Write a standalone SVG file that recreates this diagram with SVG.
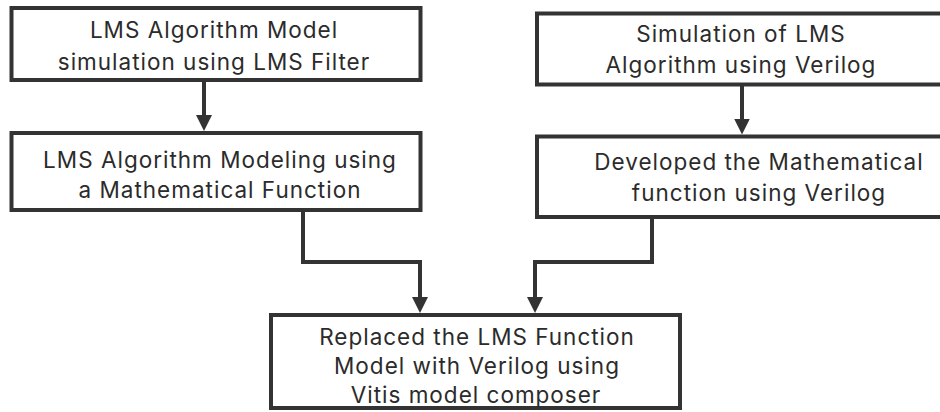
<svg xmlns="http://www.w3.org/2000/svg" width="940" height="412" viewBox="0 0 940 412">
  <defs>
    <style>
      .box { fill: #ffffff; stroke: #333333; stroke-width: 4; }
      .lbl { font-family: Inter, "Open Sans", "Liberation Sans", sans-serif; font-size: 22.5px; letter-spacing: 1px; fill: #2b2b2b; text-anchor: middle; }
      .wire { fill: none; stroke: #333333; stroke-width: 4; stroke-linejoin: miter; }
    </style>
    <marker id="head" viewBox="0 0 16 16" refX="10" refY="8" markerWidth="16" markerHeight="16" markerUnits="userSpaceOnUse" orient="auto">
      <path d="M0,0 L16,8 L0,16 Z" fill="#333333"/>
    </marker>
  </defs>
  <rect width="940" height="412" fill="#ffffff"/>

  <g id="connectors">
    <path class="wire" d="M204,80 V125" marker-end="url(#head)"/>
    <path class="wire" d="M742,84.5 V128.5" marker-end="url(#head)"/>
    <path class="wire" d="M303,210 V262 H420 V307" marker-end="url(#head)"/>
    <path class="wire" d="M652,217 V262 H535 V307" marker-end="url(#head)"/>
  </g>

  <g id="lms-filter-sim">
    <rect class="box" x="11.5" y="8" width="409" height="72"/>
    <text class="lbl" x="214" y="38">LMS Algorithm Model</text>
    <text class="lbl" x="214" y="70">simulation using LMS Filter</text>
  </g>

  <g id="math-function-model">
    <rect class="box" x="11.5" y="133" width="409" height="77"/>
    <text class="lbl" x="220" y="168">LMS Algorithm Modeling using</text>
    <text class="lbl" x="220" y="198">a Mathematical Function</text>
  </g>

  <g id="verilog-sim">
    <rect class="box" x="537" y="13.5" width="420" height="71"/>
    <text class="lbl" x="741" y="42">Simulation of LMS</text>
    <text class="lbl" x="741" y="73">Algorithm using Verilog</text>
  </g>

  <g id="verilog-function">
    <rect class="box" x="537" y="136.5" width="450" height="80.5"/>
    <text class="lbl" x="759" y="170">Developed the Mathematical</text>
    <text class="lbl" x="759" y="201">function using Verilog</text>
  </g>

  <g id="vitis-composer">
    <rect class="box" x="271" y="315" width="409" height="93"/>
    <text class="lbl" x="477" y="345">Replaced the LMS Function</text>
    <text class="lbl" x="477" y="374">Model with Verilog using</text>
    <text class="lbl" x="476" y="403">Vitis model composer</text>
  </g>
</svg>
